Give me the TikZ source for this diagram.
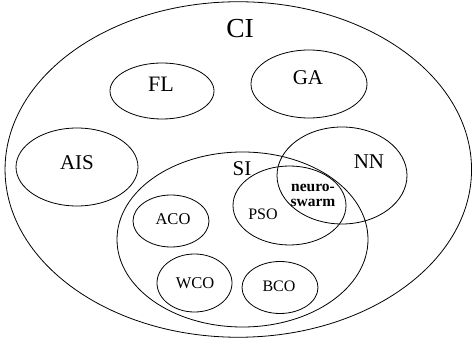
\documentclass[tikz,border=0pt]{standalone}
\usepackage{fontspec}
\setmainfont{Liberation Serif}
\usetikzlibrary{shapes.geometric}
\begin{document}
\begin{tikzpicture}[x=1pt,y=-1pt,
  set/.style={draw,line width=0.8pt,ellipse,inner sep=0pt},
  lbl/.style={inner sep=0pt,anchor=center}]
\useasboundingbox (0,0) rectangle (472,339);
\node[set,minimum width=466.5pt,minimum height=335.5pt] (ci) at (238.3,169.5) {};
\node[set,minimum width=104pt,minimum height=56pt] (fl) at (162,91) {};
\node[set,minimum width=116pt,minimum height=68pt] (ga) at (309,84) {};
\node[set,minimum width=122pt,minimum height=78pt] (ais) at (77,167) {};
\node[set,minimum width=251pt,minimum height=175pt] (si) at (242.5,239.5) {};
\node[set,minimum width=130pt,minimum height=97pt] (nn) at (342,175.5) {};
\node[set,minimum width=113pt,minimum height=79pt] (pso) at (289.5,205.5) {};
\node[set,minimum width=76pt,minimum height=52pt] (aco) at (171,221) {};
\node[set,minimum width=75pt,minimum height=58pt] (wco) at (194.5,283) {};
\node[set,minimum width=76pt,minimum height=52pt] (bco) at (280,287.5) {};
\node[lbl,font=\fontsize{27.5}{30}\selectfont] (tci) at (240,29) {CI};
\node[lbl,font=\fontsize{22}{25}\selectfont] (tfl) at (161,84) {FL};
\node[lbl,font=\fontsize{21}{24}\selectfont] (tga) at (308,78) {GA};
\node[lbl,font=\fontsize{21}{24}\selectfont] (tais) at (77,163) {AIS};
\node[lbl,font=\fontsize{21}{24}\selectfont] (tsi) at (242,169) {SI};
\node[lbl,font=\fontsize{21}{24}\selectfont] (tnn) at (369,162) {NN};
\node[lbl,font=\fontsize{16}{18}\selectfont] (tpso) at (263,214) {PSO};
\node[lbl,font=\fontsize{16.5}{18}\selectfont] (taco) at (173,219) {ACO};
\node[lbl,font=\fontsize{16.5}{18}\selectfont] (twco) at (195,283) {WCO};
\node[lbl,font=\fontsize{16}{18}\selectfont] (tbco) at (279,286) {BCO};
\node[lbl,font=\fontsize{15.5}{15}\selectfont\bfseries,align=center] (tns) at (313,195.5) {neuro-\\swarm};
\end{tikzpicture}
\end{document}
